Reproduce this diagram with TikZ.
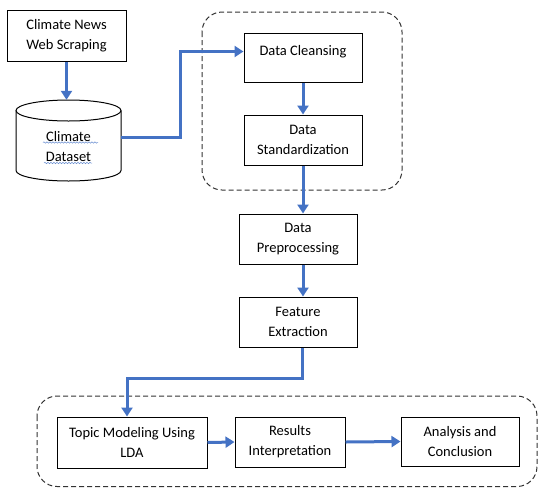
\documentclass[tikz,border=0pt]{standalone}
\usepackage{fontspec}
\setmainfont{Carlito}
\usetikzlibrary{arrows.meta,decorations.pathmorphing}
\definecolor{ablue}{HTML}{4472C4}
\begin{document}
\begin{tikzpicture}[x=1pt,y=-1pt,
  box/.style={draw=black,line width=1pt,align=center,inner sep=0pt,
    font=\fontsize{14.5}{20}\selectfont},
  flow/.style={draw=ablue,line width=3pt,-{Triangle[length=9pt,width=11pt]}},
  grp/.style={draw=black!80,line width=1pt,dash pattern=on 5pt off 3pt,rounded corners=20pt},
  squig/.style={draw=ablue!80,line width=0.5pt,decorate,decoration={snake,amplitude=0.7pt,segment length=3pt}}]
\useasboundingbox (0,0) rectangle (540,488);

% groups
\draw[grp] (202,12) rectangle (402,190);
\draw[grp] (37,396) rectangle (537,486.5);

% nodes
\node[box,minimum width=119pt,minimum height=51pt] (news) at (66.5,35.5) {Climate News\\Web Scraping};

% cylinder
\draw[line width=1pt] (16,110.5) -- (16,170.5)
  arc[start angle=180,end angle=360,x radius=52.5pt,y radius=10.5pt] -- (121,110.5);
\draw[line width=1pt] (68.5,110.5) ellipse [x radius=52.5pt,y radius=10.5pt];
\node[minimum width=105pt,minimum height=81pt,inner sep=0pt] (db) at (68.5,140.5) {};
\node[align=center,inner sep=0pt,font=\fontsize{14.5}{20}\selectfont] (dstext) at (68.5,147) {Climate\\Dataset};
\draw[squig] (43,142.5) -- (98,142.5);
\draw[squig] (44,163) -- (92,163);

\node[box,minimum width=118pt,minimum height=49pt] (clean) at (303,57.5) {Data Cleansing\\[-6pt]\phantom{x}};
\node[box,minimum width=118pt,minimum height=50pt] (std) at (303,140) {Data\\Standardization};
\node[box,minimum width=118pt,minimum height=50pt] (pre) at (298,239) {Data\\Preprocessing};
\node[box,minimum width=118pt,minimum height=50pt] (feat) at (298,322) {Feature\\Extraction};
\node[box,minimum width=150pt,minimum height=51pt] (topic) at (132,442.5) {Topic Modeling Using\\LDA};
\node[box,minimum width=110pt,minimum height=50pt] (res) at (290,442) {Results\\Interpretation};
\node[box,minimum width=118pt,minimum height=49pt] (ana) at (460,441.5) {Analysis and\\Conclusion};

% connectors
\draw[flow] (news.south) -- (news.south |- db.north);
\draw[flow] ([yshift=3.5pt]db.east) -- ++(59,0) |- ([yshift=6pt]clean.west);
\draw[flow] (clean.south) -- (std.north);
\draw[flow] (std.south) -- (std.south |- pre.north);
\draw[flow] ([xshift=5pt]pre.south) -- ([xshift=5pt]feat.north);
\draw[flow] ([xshift=4pt]feat.south) -- ++(0,31) -| ([xshift=-5pt]topic.north);
\draw[flow] (topic.east) -- (res.west);
\draw[flow] (res.east) -- (ana.west);
\end{tikzpicture}
\end{document}
